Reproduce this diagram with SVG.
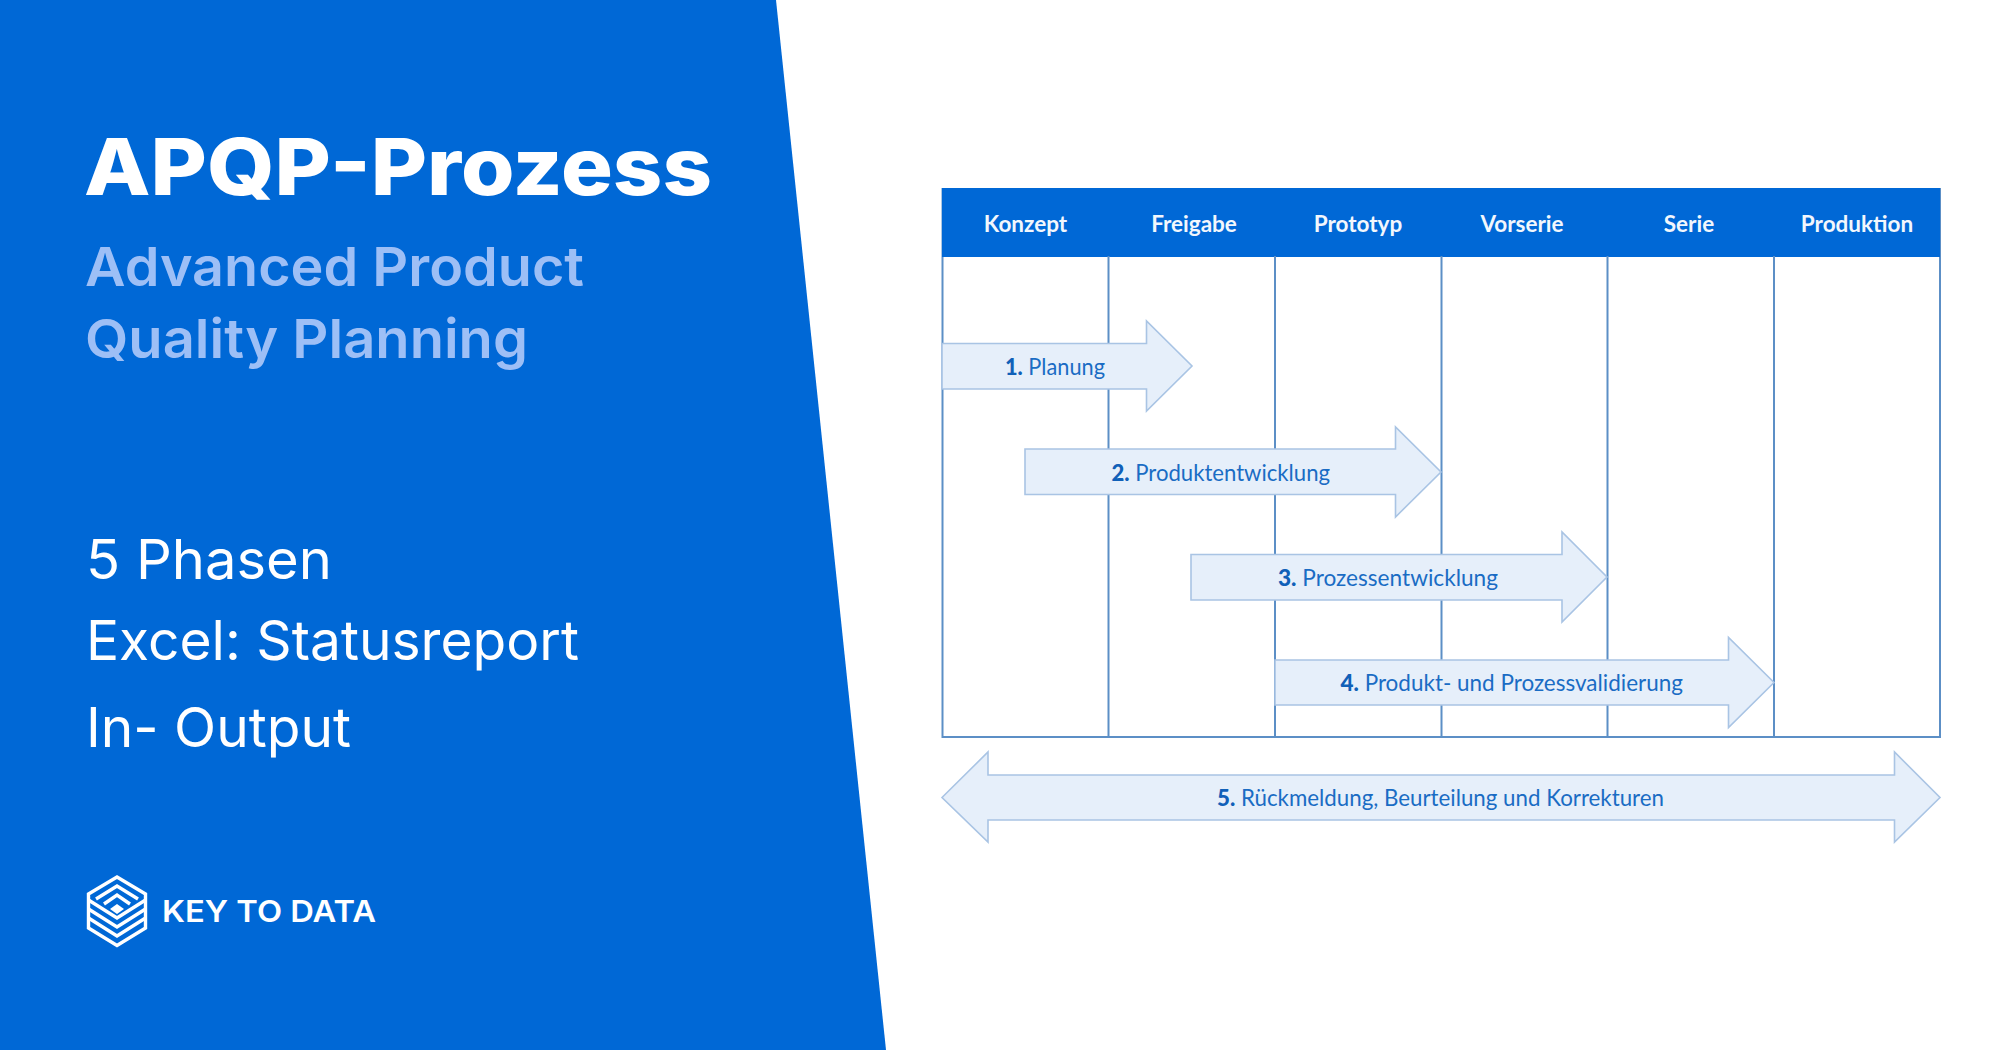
<svg xmlns="http://www.w3.org/2000/svg" width="2002" height="1050" viewBox="0 0 2002 1050">
<style>
.t{font-family:Lato,"Open Sans",sans-serif}
.i{font-family:Inter,"Open Sans",sans-serif}
.w{fill:#fff}
.h{font-size:22.500px;font-weight:700;fill:#f2f7fd;text-anchor:middle}
.a{fill:#e6effa;stroke:#a9c4e4;stroke-width:1.6}
.g{stroke:#5c8fc6;stroke-width:2;fill:none}
.l{font-size:22.500px;fill:#1a6cc4}
.l tspan{font-weight:900;fill:#1060b8}
.s{fill:none;stroke:#fff;stroke-width:3.400;stroke-linejoin:miter}
</style>
<rect width="2002" height="1050" fill="#fff"/>
<polygon points="0,0 776,0 886,1050 0,1050" fill="#0068d6"/>
<g id="title">
<text class="i w" x="84" y="195" font-size="79" font-weight="800" textLength="628" lengthAdjust="spacingAndGlyphs">APQP-Prozess</text>
<text class="i" x="85" y="286" font-size="54" font-weight="600" fill="#9dbff6" textLength="499" lengthAdjust="spacingAndGlyphs">Advanced Product</text>
<text class="i" x="85" y="358" font-size="54" font-weight="600" fill="#9dbff6" textLength="443" lengthAdjust="spacingAndGlyphs">Quality Planning</text>
</g>
<g id="info">
<text class="i w" x="86" y="579" font-size="55" textLength="246" lengthAdjust="spacingAndGlyphs">5 Phasen</text>
<text class="i w" x="86" y="660" font-size="55" textLength="493" lengthAdjust="spacingAndGlyphs">Excel: Statusreport</text>
<text class="i w" x="86" y="747" font-size="55" textLength="265" lengthAdjust="spacingAndGlyphs">In- Output</text>
</g>
<g id="logo">
<polygon class="s" points="117,877 145.500,894 145.500,928 117,945.500 88.500,928 88.500,894"/>
<polyline class="s" points="88.500,900 117,918 145.500,900"/>
<polyline class="s" points="88.500,909 117,927 145.500,909"/>
<polyline class="s" points="88.500,918 117,936 145.500,918"/>
<polyline class="s" points="96,899 117,886 138,899"/>
<polyline class="s" points="104,904 117,895 130,904"/>
<polygon points="117,904 124,909 117,914 110,909" fill="#fff"/>
<text class="i w" x="162" y="922" font-size="30" font-weight="600" textLength="214" lengthAdjust="spacingAndGlyphs">KEY TO DATA</text>
</g>
<g id="table">
<rect x="942.500" y="189" width="997.500" height="548" fill="#fff" stroke="#5c8fc6" stroke-width="2"/>
<rect x="942" y="188" width="998" height="69" fill="#0068d6"/>
<path class="g" d="M1108.500 256V737M1275 256V737M1441.500 256V737M1607.500 256V737M1774 256V737"/>
</g>
<g id="headers">
<text class="t h" x="1025.500" y="231.500">Konzept</text>
<text class="t h" x="1194" y="231.500">Freigabe</text>
<text class="t h" x="1358" y="231.500">Prototyp</text>
<text class="t h" x="1522" y="231.500">Vorserie</text>
<text class="t h" x="1689" y="231.500">Serie</text>
<text class="t h" x="1857" y="231.500">Produktion</text>
</g>
<g id="connectors">
<g id="arrow1">
<polygon class="a" points="942,343.500 1146.500,343.500 1146.500,321 1192,366 1146.500,411 1146.500,389 942,389"/>
<text class="t l" x="1005" y="375" textLength="100" lengthAdjust="spacingAndGlyphs"><tspan>1.</tspan> Planung</text>
</g>
<g id="arrow2">
<polygon class="a" points="1025,449 1395.500,449 1395.500,427 1441,472 1395.500,517 1395.500,494.500 1025,494.500"/>
<text class="t l" x="1111.500" y="480.500" textLength="218.500" lengthAdjust="spacingAndGlyphs"><tspan>2.</tspan> Produktentwicklung</text>
</g>
<g id="arrow3">
<polygon class="a" points="1191,554.500 1562,554.500 1562,532 1607,577 1562,622 1562,600 1191,600"/>
<text class="t l" x="1278" y="585.500" textLength="220" lengthAdjust="spacingAndGlyphs"><tspan>3.</tspan> Prozessentwicklung</text>
</g>
<g id="arrow4">
<polygon class="a" points="1275,660 1728.500,660 1728.500,637.500 1774,682.500 1728.500,727.500 1728.500,705 1275,705"/>
<text class="t l" x="1340.500" y="691" textLength="342.500" lengthAdjust="spacingAndGlyphs"><tspan>4.</tspan> Produkt- und Prozessvalidierung</text>
</g>
<g id="arrow5">
<polygon class="a" points="942,797.500 988,752 988,775 1894.500,775 1894.500,752 1940,797.500 1894.500,842 1894.500,820 988,820 988,842"/>
<text class="t l" x="1217" y="806" textLength="447" lengthAdjust="spacingAndGlyphs"><tspan>5.</tspan> Rückmeldung, Beurteilung und Korrekturen</text>
</g>
</g>
</svg>
